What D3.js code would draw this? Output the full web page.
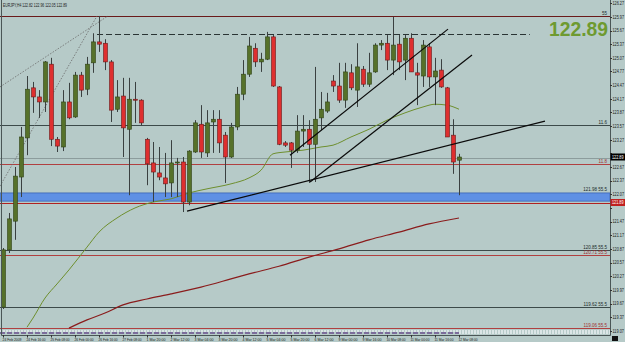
<!DOCTYPE html>
<html>
<head>
<meta charset="utf-8">
<script src="https://cdn.jsdelivr.net/npm/d3@7"></script>
<style>
  body { margin: 0; background: #b6cac8; }
  svg { display: block; font-family: "Liberation Sans", Arial, sans-serif; }
</style>
</head>
<body>
<svg id="chart" width="625" height="342"></svg>
<script>
/********** Data **********/
var symbol = "EURJPY,H4";

// H4 candles, 24 Feb 2009 00:00 .. 12 Mar 2009 08:00
var opens = [119.59,120.85,121.48,122.45,123.31,124.41,124.21,124.10,124.93,123.28,
  123.11,124.10,123.77,124.69,124.38,124.96,125.42,125.39,124.98,123.94,
  124.23,123.50,124.16,124.14,123.28,122.76,122.54,122.43,122.32,122.76,
  122.78,121.90,123.00,123.61,122.98,123.66,123.72,123.37,122.89,123.55,
  124.27,124.71,125.28,124.98,125.04,125.53,124.43,123.20,123.20,123.04,
  123.46,123.50,123.17,123.75,123.90,124.56,124.45,124.14,124.74,124.36,
  124.82,124.49,124.76,125.35,125.39,125.02,125.37,125.02,125.50,124.74,
  124.67,125.31,124.65,124.80,124.41,123.37,122.82];
var highs = [120.89,121.66,122.67,123.55,124.67,124.54,124.36,125.00,125.07,123.33,
  124.36,124.52,124.76,124.76,125.09,125.61,125.99,125.48,125.02,124.58,
  124.63,124.63,124.54,124.16,123.31,123.22,123.11,122.98,123.26,122.87,
  122.89,123.04,123.70,124.03,123.92,123.92,123.92,123.44,123.64,124.43,
  125.02,125.53,125.39,125.18,125.64,125.57,124.45,123.24,123.22,123.81,
  123.81,123.70,124.87,124.32,124.30,124.69,124.96,124.96,124.93,125.39,
  124.89,125.18,125.39,125.46,125.57,125.97,125.57,125.57,125.61,124.96,
  125.46,125.39,125.07,125.04,124.43,123.72,122.96];
var lows = [119.55,120.78,121.07,122.01,122.93,123.86,123.75,123.88,123.13,123.00,
  123.02,123.72,123.75,124.21,124.25,124.74,125.20,124.80,123.66,123.88,
  122.89,122.05,123.64,123.59,122.27,121.90,122.38,122.01,122.01,122.01,
  121.68,121.83,122.98,122.87,122.89,122.98,122.98,122.32,122.87,123.48,
  124.14,124.65,124.87,124.76,125.02,124.43,123.15,123.11,122.65,122.98,
  123.11,122.32,122.34,123.48,123.86,124.32,124.08,123.97,124.36,123.99,
  124.43,124.43,124.74,125.24,124.80,124.69,124.80,124.58,124.76,124.03,
  124.43,124.43,124.03,124.41,123.33,122.52,122.05];
var closes = [120.85,121.53,122.47,123.33,124.38,124.21,124.10,124.98,123.28,123.13,
  124.10,123.75,124.69,124.36,124.93,125.42,125.37,124.98,123.92,124.21,
  123.53,124.16,124.14,123.64,122.74,122.56,122.45,122.30,122.76,122.78,
  121.90,123.02,123.64,123.00,123.64,123.72,123.20,122.89,123.55,124.27,
  124.71,125.33,124.98,125.04,125.53,124.45,123.17,123.15,123.04,123.46,
  123.50,123.17,123.72,123.94,124.10,124.45,124.14,124.76,124.41,124.87,
  124.49,124.74,125.35,125.39,125.02,125.35,124.98,125.50,124.76,124.69,
  125.35,124.65,124.78,124.43,123.33,122.78,122.89];

// time axis labels (every 4th bar)
var timeIdx = [0,4,8,12,16,20,24,28,32,36,40,44,48,52,56,60,64,68,72,76];
var timeLabels = ["24 Feb 2009","24 Feb 16:00","25 Feb 08:00","26 Feb 00:00","26 Feb 16:00",
  "27 Feb 08:00","1 Mar 20:00","2 Mar 12:00","3 Mar 04:00","3 Mar 20:00","4 Mar 12:00",
  "5 Mar 04:00","5 Mar 20:00","6 Mar 12:00","9 Mar 00:00","9 Mar 16:00","10 Mar 08:00",
  "11 Mar 00:00","11 Mar 16:00","12 Mar 08:00"];

// price axis labels
var priceTicks = [126.27,125.97,125.67,125.37,125.07,124.77,124.47,124.17,123.87,123.57,
  123.27,122.97,122.67,122.37,122.07,121.77,121.47,121.17,120.87,120.57,
  120.27,119.97,119.67,119.37,119.07];

// moving averages (bar index, value)
var maFastIdx = [4,5,7,9,11,14,16,19,22,25,28,31,34,38,41,43,45,47,50,53,55,58,61,64,67,70,72,74,76];
var maFastVal = [119.15,119.35,119.79,120.10,120.41,120.91,121.24,121.55,121.77,121.90,121.97,122.10,
  122.19,122.30,122.43,122.60,122.96,123.00,123.04,123.11,123.15,123.33,123.50,123.70,123.86,
  123.99,124.05,124.03,123.94];
var maSlowIdx = [11,14,17,20,24,28,33,38,41,46,51,56,61,66,71,76];
var maSlowVal = [119.13,119.31,119.46,119.64,119.77,119.88,120.03,120.21,120.32,120.49,120.69,
  120.87,121.07,121.24,121.42,121.55];

// horizontal line objects
var hLevels = [125.99, 123.59, 122.87, 122.74, 121.89, 120.85, 120.74, 119.59, 119.13];
var hColors = ["#6a1a1a", "#3c4a4a", "#8c9c9c", "#b04040", "#b02020", "#3c4a4a", "#b04040", "#3c4a4a", "#b04040"];
var hTexts  = ["55", "11.6", "", "11.8", "", "120.85  55.5", "120.71  55.5", "119.62  55.5", "119.06  55.5"];

var zoneTop = 122.10, zoneBottom = 121.92, zoneText = "121.98  55.5";
var dashedLevel = 125.59, dashedFrom = 15.67, dashedTo = 87.8;

// trend lines [idx0, price0, idx1, price1]
var trendLines = [[30.67, 121.70, 90.33, 123.68],
                  [51.17, 122.34, 78.17, 125.13],
                  [47.83, 122.93, 74.17, 125.70]];
var fanLines = [[-0.5, 122.25, 15.67, 125.99],
                [-0.5, 124.43, 17.5, 125.99]];

var lastPrice = 122.89, lineTag = 121.89;

/********** Chart **********/
var svg = d3.select("#chart"),
    plotRight = 610, plotBottom = 335;

var x = d3.scaleLinear().domain([0, 76]).range([3, 459]);
var y = d3.scaleLinear().domain([119.0, 126.3]).range([334.0, 1.85]);

svg.append("rect").attr("width", 625).attr("height", 342).attr("fill", "#b6cac8");

// blue zone
svg.append("rect")
    .attr("x", 0).attr("width", plotRight)
    .attr("y", y(zoneTop)).attr("height", y(zoneBottom) - y(zoneTop))
    .attr("fill", "#5f90e4").attr("stroke", "#3d66b5").attr("stroke-width", 0.8);
svg.append("text").attr("x", 607).attr("y", y(zoneTop) - 1.5)
    .attr("text-anchor", "end").attr("font-size", 4.5).attr("fill", "#1a2a2a").text(zoneText);

// horizontal lines
hLevels.forEach(function(p, k) {
    svg.append("line")
        .attr("x1", 0).attr("x2", plotRight)
        .attr("y1", Math.round(y(p)) + 0.5).attr("y2", Math.round(y(p)) + 0.5)
        .attr("stroke", hColors[k]).attr("stroke-width", 1);
    if (hTexts[k])
        svg.append("text").attr("x", 607).attr("y", Math.round(y(p)) - 1)
            .attr("text-anchor", "end").attr("font-size", 4.5)
            .attr("fill", hColors[k] == "#b04040" ? "#a03030" : "#1a2a2a")
            .text(hTexts[k]);
});

// dashed level
svg.append("line")
    .attr("x1", x(dashedFrom)).attr("x2", x(dashedTo))
    .attr("y1", Math.round(y(dashedLevel)) + 0.5).attr("y2", Math.round(y(dashedLevel)) + 0.5)
    .attr("stroke", "#2a3434").attr("stroke-width", 1).attr("stroke-dasharray", "6,3");

// fan lines (dotted)
fanLines.forEach(function(l) {
    svg.append("line")
        .attr("x1", x(l[0])).attr("y1", y(l[1])).attr("x2", x(l[2])).attr("y2", y(l[3]))
        .attr("stroke", "#6a6a6a").attr("stroke-width", 0.8).attr("stroke-dasharray", "1.5,1.5");
});

// moving averages
var maLine = d3.line().x(function(d) { return x(d[0]); }).y(function(d) { return y(d[1]); }).curve(d3.curveMonotoneX);
svg.append("path")
    .attr("d", maLine(d3.zip(maSlowIdx, maSlowVal)))
    .attr("fill", "none").attr("stroke", "#8a1c1c").attr("stroke-width", 1.2);
svg.append("path")
    .attr("d", maLine(d3.zip(maFastIdx, maFastVal)))
    .attr("fill", "none").attr("stroke", "#6e8f2e").attr("stroke-width", 1);

// candles
var bars = d3.range(opens.length);
var g = svg.append("g").attr("class", "candles");

g.selectAll("line.wick")
    .data(bars)
    .enter().append("line")
    .attr("class", "wick")
    .attr("x1", function(i) { return Math.round(x(i)) + 0.5; })
    .attr("x2", function(i) { return Math.round(x(i)) + 0.5; })
    .attr("y1", function(i) { return y(highs[i]); })
    .attr("y2", function(i) { return y(lows[i]); })
    .attr("stroke", "#3a4040").attr("stroke-width", 1);

g.selectAll("rect.body")
    .data(bars)
    .enter().append("rect")
    .attr("class", "body")
    .attr("x", function(i) { return Math.round(x(i)) - 1.5; })
    .attr("width", 4)
    .attr("y", function(i) { return y(Math.max(opens[i], closes[i])); })
    .attr("height", function(i) { return Math.max(1, Math.abs(y(opens[i]) - y(closes[i]))); })
    .attr("fill", function(i) { return closes[i] >= opens[i] ? "#56712a" : "#de2f2f"; })
    .attr("stroke", function(i) { return closes[i] >= opens[i] ? "#2f4214" : "#6a1a1a"; })
    .attr("stroke-width", 0.6);

// trend lines
trendLines.forEach(function(l) {
    svg.append("line")
        .attr("x1", x(l[0])).attr("y1", y(l[1])).attr("x2", x(l[2])).attr("y2", y(l[3]))
        .attr("stroke", "#0a0a0a").attr("stroke-width", 1.2);
});

// bottom indicator strip
svg.append("line").attr("x1", 0).attr("x2", plotRight).attr("y1", 331).attr("y2", 331)
    .attr("stroke", "#e8eef0").attr("stroke-width", 1.5).attr("stroke-dasharray", "2,1");
svg.append("line").attr("x1", 0).attr("x2", x(76)).attr("y1", 333).attr("y2", 333)
    .attr("stroke", "#6a4f8c").attr("stroke-width", 1.5).attr("stroke-dasharray", "5,2");
svg.append("line").attr("x1", x(76)).attr("x2", plotRight).attr("y1", 333).attr("y2", 333)
    .attr("stroke", "#e8eef0").attr("stroke-width", 1.5).attr("stroke-dasharray", "2,1");

// frame
svg.append("path")
    .attr("d", "M1.5,0V" + (plotBottom + 0.5) + "H" + (plotRight + 0.5) + "V0")
    .attr("fill", "none").attr("stroke", "#4a5656").attr("stroke-width", 1);

// price tags positions, ticks close to them are hidden like in the terminal
var tags = [[lastPrice, "#000000"], [lineTag, "#c02020"]];

// price axis
var py = svg.append("g").attr("class", "yaxis");
priceTicks.forEach(function(p) {
    py.append("line").attr("x1", plotRight).attr("x2", plotRight + 2)
        .attr("y1", Math.round(y(p)) + 0.5).attr("y2", Math.round(y(p)) + 0.5)
        .attr("stroke", "#333");
    var near = tags.some(function(t) { return Math.abs(y(t[0]) - y(p)) < 7; });
    if (near) return;
    py.append("text").attr("x", plotRight + 2.5).attr("y", y(p) + 1.8)
        .attr("font-size", 4.5).attr("textLength", 11.5).attr("lengthAdjust", "spacingAndGlyphs")
        .attr("fill", "#1a1a1a").text(p.toFixed(2));
});

// price tags
tags.forEach(function(t) {
    svg.append("rect").attr("x", plotRight + 0.5).attr("y", y(t[0]) - 3.5)
        .attr("width", 14.5).attr("height", 7).attr("fill", t[1]);
    svg.append("text").attr("x", plotRight + 2).attr("y", y(t[0]) + 1.8)
        .attr("font-size", 4.5).attr("textLength", 11.5).attr("lengthAdjust", "spacingAndGlyphs")
        .attr("fill", "#ffffff").text(t[0].toFixed(2));
});

// time axis
timeIdx.forEach(function(i, k) {
    svg.append("line").attr("x1", Math.round(x(i)) + 0.5).attr("x2", Math.round(x(i)) + 0.5)
        .attr("y1", plotBottom).attr("y2", plotBottom + 2.5).attr("stroke", "#333");
    svg.append("text").attr("x", x(i) - 0.5).attr("y", 340.5)
        .attr("font-size", 4.2).attr("textLength", 19).attr("lengthAdjust", "spacingAndGlyphs")
        .attr("fill", "#1a1a1a").text(timeLabels[k]);
});
svg.append("rect").attr("x", 612).attr("y", 336).attr("width", 6).attr("height", 5).attr("fill", "#111");

// title and big price
svg.append("text").attr("x", 3).attr("y", 7)
    .attr("font-size", 4.8).attr("textLength", 64).attr("lengthAdjust", "spacingAndGlyphs")
    .attr("fill", "#1a1a1a")
    .text(symbol + "  " + opens[76].toFixed(2) + " " + highs[76].toFixed(2) + " " + lows[76].toFixed(2) + " " + closes[76].toFixed(2));

svg.append("text").attr("x", 608).attr("y", 36)
    .attr("text-anchor", "end").attr("font-size", 21).attr("font-weight", "bold")
    .attr("textLength", 59).attr("lengthAdjust", "spacingAndGlyphs")
    .attr("fill", "#6e9a30").text(lastPrice.toFixed(2));
</script>
</body>
</html>
